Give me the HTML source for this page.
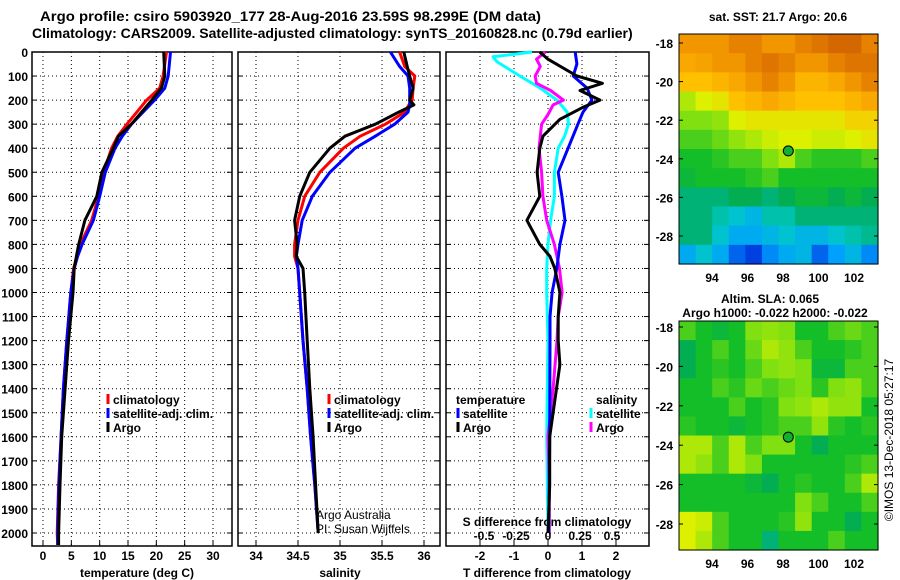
<!DOCTYPE html>
<html><head><meta charset="utf-8"><style>
body{margin:0;background:#fff;}
svg{display:block;font-family:"Liberation Sans",sans-serif;}
.t{font-weight:bold;font-size:12px;}
.n{font-weight:normal;font-size:12px;}
.h{font-weight:bold;font-size:14px;}
</style></head><body>
<svg id="fig" width="900" height="580" viewBox="0 0 900 580">
<text class="h" x="40" y="21" textLength="501" lengthAdjust="spacingAndGlyphs">Argo profile: csiro 5903920_177 28-Aug-2016 23.59S 98.299E (DM data)</text>
<text class="h" x="32" y="38">Climatology: CARS2009. Satellite-adjusted climatology: synTS_20160828.nc (0.79d earlier)</text>
<g id="g"></g>
</svg>
<script>
const depthTicks=[0,100,200,300,400,500,600,700,800,900,1000,1100,1200,1300,1400,1500,1600,1700,1800,1900,2000];
const tempTicks=[0,5,10,15,20,25,30];
const salTicks=[34,34.5,35,35.5,36];
const salTickLabels=["34","34.5","35","35.5","36"];
const tdTicks=[-2,-1,0,1,2];
const sdTicks=[-0.5,-0.25,0,0.25,0.5];
const sdTickLabels=["-0.5","-0.25","0","0.25","0.5"];
// temperature profiles
const depthT=[0,100,150,200,300,350,400,500,600,700,800,850,900,1000,1200,1400,1600,1800,2000,2050];
const tempArgo=[21.3,21.5,20.9,19.2,15.6,13.3,12.4,10.4,9.5,7.4,6.3,5.9,5.5,5.3,4.5,3.9,3.3,3.0,2.75,2.75];
const tempClim=[21.8,21.2,20.6,18.3,14.8,13.2,12.1,10.7,9.8,8.6,6.6,6.0,5.4,4.9,4.2,3.6,3.2,2.75,2.5,2.6];
const tempSat=[22.5,22.1,21.5,19.7,15.6,14.0,12.7,11.0,10.0,8.9,6.9,6.1,5.5,4.9,4.2,3.6,3.2,2.8,2.6,2.6];
// salinity profiles
const depthS=[0,60,100,150,200,220,250,300,350,400,500,600,700,800,850,900,1000,1200,1400,1600,1800,2000];
const salArgo=[35.76,35.80,35.83,35.87,35.83,35.88,35.70,35.42,35.06,34.88,34.64,34.52,34.46,34.49,34.48,34.56,34.58,34.61,34.64,34.68,34.71,34.74];
const salClim=[35.71,35.77,35.89,35.87,35.86,35.82,35.77,35.54,35.24,35.04,34.76,34.58,34.50,34.46,34.46,34.50,34.52,34.56,34.61,34.65,34.70,34.74];
const salSat=[35.60,35.71,35.81,35.83,35.83,35.83,35.81,35.65,35.42,35.18,34.88,34.67,34.55,34.50,34.48,34.50,34.52,34.56,34.61,34.65,34.70,34.74];
// difference profiles
const depthDT=[0,30,100,130,160,200,230,280,350,400,500,600,700,800,850,900,1000,1100,1200,1300,1400,1500,1600,1800,2000];
const tdArgo=[-0.24,0.0,0.85,1.6,0.94,1.53,1.03,0.35,-0.15,-0.24,-0.32,-0.24,-0.62,-0.24,0.06,0.2,0.35,0.3,0.3,0.35,0.25,0.15,0.05,0.05,0.0];
const depthDS=[0,50,100,150,200,250,300,400,500,600,700,800,900,1000,1100,1200,1600,2000];
const tdSat=[0.8,0.85,0.74,1.15,1.29,1.03,0.88,0.59,0.3,0.41,0.5,0.35,0.26,0.12,0.06,0.06,0.05,0.02];
const depthCS=[0,20,40,100,150,200,250,300,350,400,500,600,700,800,900,1000,1200,1600,2000];
const sdSat=[-0.125,-0.43,-0.4,-0.22,-0.06,0.07,0.15,0.16,0.13,0.08,0.05,0.05,0.02,0,-0.01,-0.01,0,-0.01,0];
const depthMS=[0,30,60,100,130,160,200,220,260,300,400,500,600,700,800,900,1000,1100,1200,1400,1600,1800,2000];
const sdArgo=[-0.02,-0.09,-0.06,-0.1,-0.09,0.02,0.12,0.04,0,-0.05,-0.07,-0.05,-0.04,-0.01,0.05,0.09,0.11,0.08,0.07,0.04,0,0.01,0.01];
// map grids (normalised colour values, rows north->south)
const sstGrid=[
[.85,.85,.85,.88,.88,.85,.85,.88,.9,.92,.92,.88],
[.82,.83,.85,.85,.88,.9,.88,.85,.85,.88,.9,.9],
[.78,.78,.8,.82,.85,.88,.85,.8,.8,.82,.85,.88],
[.65,.7,.72,.78,.8,.82,.8,.78,.78,.78,.8,.82],
[.6,.6,.62,.7,.72,.72,.72,.72,.72,.72,.75,.75],
[.55,.55,.58,.62,.65,.68,.7,.7,.68,.68,.7,.72],
[.5,.5,.52,.55,.55,.6,.65,.55,.52,.52,.52,.55],
[.48,.5,.5,.5,.52,.55,.5,.5,.5,.5,.5,.5],
[.42,.42,.42,.45,.45,.42,.45,.48,.48,.45,.48,.45],
[.42,.42,.38,.35,.32,.38,.38,.42,.42,.42,.42,.42],
[.42,.42,.35,.3,.3,.32,.35,.32,.32,.35,.38,.4],
[.3,.35,.3,.2,.15,.25,.3,.32,.2,.28,.32,.25]];
const slaGrid=[
[.55,.5,.48,.5,.6,.62,.6,.5,.5,.55,.58,.55],
[.45,.5,.55,.5,.58,.65,.62,.55,.5,.5,.52,.55],
[.45,.5,.52,.5,.55,.6,.62,.6,.48,.48,.55,.55],
[.5,.5,.55,.52,.58,.55,.58,.6,.52,.6,.62,.55],
[.5,.5,.5,.55,.5,.52,.6,.62,.65,.62,.62,.5],
[.52,.5,.5,.48,.5,.52,.55,.55,.62,.52,.5,.52],
[.65,.65,.55,.65,.55,.6,.6,.5,.45,.5,.5,.5],
[.65,.62,.55,.65,.6,.5,.5,.5,.5,.5,.52,.55],
[.5,.5,.5,.5,.48,.45,.5,.52,.5,.5,.55,.65],
[.5,.5,.5,.5,.5,.5,.5,.6,.55,.5,.5,.55],
[.7,.68,.55,.5,.5,.5,.52,.62,.5,.5,.45,.5],
[.7,.65,.55,.5,.5,.42,.5,.5,.5,.55,.5,.5]];
const lonTicks=[94,96,98,100,102];
const latTicks=[-18,-20,-22,-24,-26,-28];
const argoLon=98.299, argoLat=-23.59;

const NS="http://www.w3.org/2000/svg";
const G=document.getElementById('g');
function mk(tag,at,parent){const e=document.createElementNS(NS,tag);for(const k in at)e.setAttribute(k,at[k]);(parent||G).appendChild(e);return e;}
function txt(s,x,y,cls,anchor,parent){const e=mk('text',{x:x,y:y,'class':cls||'t','text-anchor':anchor||'middle'},parent);e.textContent=s;return e;}
const Y0=52, PX100=24.05, YB=546;
const yD=d=>Y0+d*PX100/100;
const xT=v=>43+v*170/30;
const xS=v=>256+(v-34)*84;
const xTD=v=>548+v*34;
const xSD=v=>548+v*128;
function panel(name,x0,x1,vgrid,xf,showDepth){
  const g=mk('g',{});
  
  
  mk('rect',{x:x0,y:Y0,width:x1-x0,height:YB-Y0,fill:'#fff',stroke:'none'},g);
  depthTicks.forEach(d=>{mk('line',{x1:x0,x2:x1,y1:yD(d),y2:yD(d),stroke:'#000','stroke-width':1,'stroke-dasharray':'1,3'},g);
    mk('line',{x1:x0,x2:x0+5,y1:yD(d),y2:yD(d),stroke:'#000'},g);mk('line',{x1:x1-5,x2:x1,y1:yD(d),y2:yD(d),stroke:'#000'},g);
    if(showDepth)txt(String(d),x0-4,yD(d)+5,'t','end',g);});
  vgrid.forEach(v=>{const x=xf(v);mk('line',{x1:x,x2:x,y1:Y0,y2:YB,stroke:'#000','stroke-dasharray':'1,3'},g);
    mk('line',{x1:x,x2:x,y1:YB-5,y2:YB,stroke:'#000'},g);});
  mk('rect',{x:x0,y:Y0,width:x1-x0,height:YB-Y0,fill:'none',stroke:'#000','stroke-width':1.5},g);
  return g;
}
function series(name,depths,vals,xf,color,parent){
  const pts=depths.map((d,i)=>xf(vals[i]).toFixed(1)+','+yD(d).toFixed(1)).join(' ');
  const p=mk('polyline',{points:pts,fill:'none',stroke:color,'stroke-width':3,'stroke-linejoin':'round'},parent);
  
  
}
function legend(parent,x,y,color,label,name){
  const l=mk('line',{x1:x,x2:x,y1:y-10,y2:y,stroke:color,'stroke-width':3},parent);
  
  
  const t=txt(label,x+5,y,'t','start',parent);
  
  
}
// panel 1
const p1=panel('temperature-panel',32,232,tempTicks,xT,true);
series('temp-climatology-line',depthT,tempClim,xT,'#f00',p1);
series('temp-satellite-line',depthT,tempSat,xT,'#00f',p1);
series('temp-argo-line',depthT,tempArgo,xT,'#000',p1);
tempTicks.forEach(v=>txt(String(v),xT(v),560,'t','middle',p1));
txt('temperature (deg C)',137,577,'t','middle',p1);
legend(p1,108,404,'#f00','climatology','legend-climatology');
legend(p1,108,418,'#00f','satellite-adj. clim.','legend-satellite');
legend(p1,108,432,'#000','Argo','legend-argo');
// panel 2
const p2=panel('salinity-panel',238,440,salTicks,xS,false);
series('sal-climatology-line',depthS,salClim,xS,'#f00',p2);
series('sal-satellite-line',depthS,salSat,xS,'#00f',p2);
series('sal-argo-line',depthS,salArgo,xS,'#000',p2);
salTicks.forEach((v,i)=>txt(salTickLabels[i],xS(v),560,'t','middle',p2));
txt('salinity',340,577,'t','middle',p2);
legend(p2,329,404,'#f00','climatology','legend-climatology-sal');
legend(p2,329,418,'#00f','satellite-adj. clim.','legend-satellite-sal');
legend(p2,329,432,'#000','Argo','legend-argo-sal');
const a1=txt('Argo Australia',316,519,'n','start',p2);


const a2=txt('PI: Susan Wijffels',316,533,'n','start',p2);


// panel 3
const p3=panel('difference-panel',446,649,tdTicks,xTD,false);
series('sdiff-satellite-line',depthCS,sdSat,xSD,'#0ff',p3);
series('sdiff-argo-line',depthMS,sdArgo,xSD,'#f0f',p3);
series('tdiff-satellite-line',depthDS,tdSat,xTD,'#00f',p3);
series('tdiff-argo-line',depthDT,tdArgo,xTD,'#000',p3);
tdTicks.forEach(v=>txt(String(v),xTD(v),560,'t','middle',p3));
sdTicks.forEach((v,i)=>txt(sdTickLabels[i],xSD(v),540,'t','middle',p3));
txt('S difference from climatology',547,526,'t','middle',p3);
txt('T difference from climatology',547,577,'t','middle',p3);
txt('temperature',456,404,'t','start',p3);
txt('salinity',596,404,'t','start',p3);
legend(p3,458,418,'#00f','satellite','legend-tdiff-satellite');
legend(p3,458,432,'#000','Argo','legend-tdiff-argo');
legend(p3,591,418,'#0ff','satellite','legend-sdiff-satellite');
legend(p3,591,432,'#f0f','Argo','legend-sdiff-argo');
// maps
const stops=[[0,[0,16,160]],[0.15,[0,64,224]],[0.28,[0,160,255]],[0.36,[0,200,200]],[0.44,[0,170,90]],[0.5,[20,190,40]],[0.6,[128,224,16]],[0.7,[220,240,0]],[0.78,[255,192,0]],[0.86,[240,144,0]],[0.93,[208,96,0]],[1,[176,48,0]]];
function cmap(v){for(let i=1;i<stops.length;i++){if(v<=stops[i][0]){const a=stops[i-1],b=stops[i],t=(v-a[0])/(b[0]-a[0]);const c=a[1].map((x,k)=>Math.round(x+(b[1][k]-x)*t));return 'rgb('+c.join(',')+')';}}return 'rgb(176,48,0)';}
function map(name,grid,top,bot,lat18y,lat28y,title1,title2){
  const g=mk('g',{});
  
  
  const x0=679,x1=878;
  const xL=v=>712+(v-94)*17.75;
  const yL=v=>lat18y+(-18-v)*(lat28y-lat18y)/10;
  const rows=grid.length,cols=grid[0].length,cw=(x1-x0)/cols,ch=(bot-top)/rows;
  grid.forEach((r,i)=>r.forEach((v,j)=>{mk('rect',{x:(x0+j*cw).toFixed(2),y:(top+i*ch).toFixed(2),width:(cw+0.6).toFixed(2),height:(ch+0.6).toFixed(2),fill:cmap(v)},g);}));
  mk('rect',{x:x0,y:top,width:x1-x0,height:bot-top,fill:'none',stroke:'#000'},g);
  latTicks.forEach(v=>{txt(String(v),x0-6,yL(v)+5,'t','end',g);mk('line',{x1:x1-4,x2:x1,y1:yL(v),y2:yL(v),stroke:'#000'},g);mk('line',{x1:x0,x2:x0+4,y1:yL(v),y2:yL(v),stroke:'#000'},g);});
  lonTicks.forEach(v=>{txt(String(v),xL(v),bot+18,'t','middle',g);});
  const c=mk('circle',{cx:xL(argoLon),cy:yL(argoLat),r:5,fill:'#10b030',stroke:'#000'},g);
  
  
  if(title2){txt(title1,770,top-18,'t','middle',g);txt(title2,775,top-4,'t','middle',g);}
  else txt(title1,778,top-13,'t','middle',g);
}
map('sst-map',sstGrid,34,264,43,236,'sat. SST: 21.7 Argo: 20.6');
map('sla-map',slaGrid,321,550,327,524,'Altim. SLA: 0.065','Argo h1000: -0.022 h2000: -0.022');
const cr=txt('©IMOS 13-Dec-2018 05:27:17',0,0,'n','middle');
cr.setAttribute('transform','translate(893,440) rotate(-90)');


</script>
</body></html>
